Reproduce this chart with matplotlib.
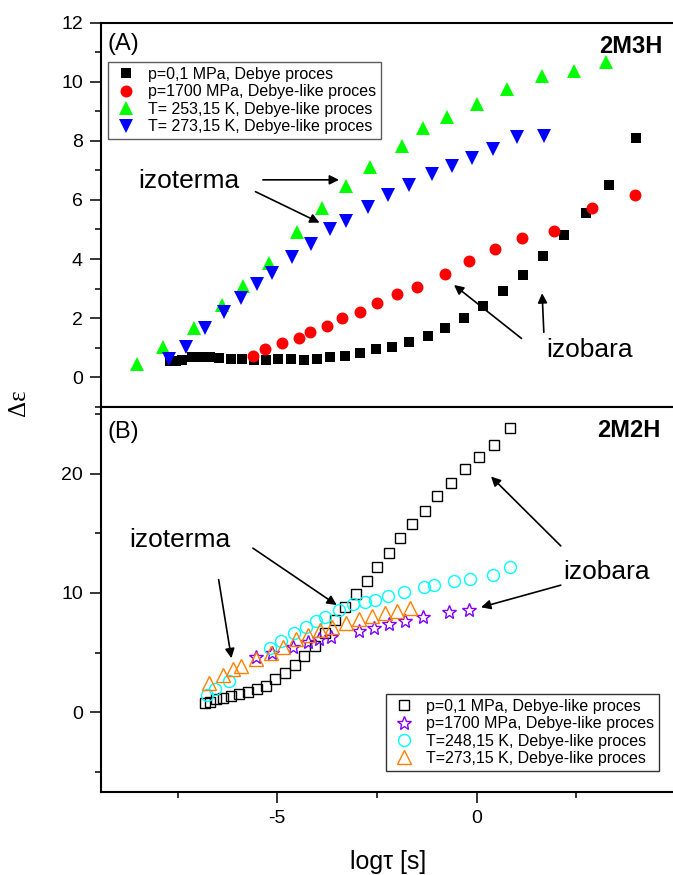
import numpy as np
import matplotlib.pyplot as plt
from matplotlib.ticker import MultipleLocator

plt.rcParams['font.family'] = ['Liberation Sans', 'DejaVu Sans']
plt.rcParams['axes.unicode_minus'] = False

# (A) 2M3H -- log(tau) vs delta eps
a_p01_x = [-4.84, -4.73, -4.62, -4.45, -4.30, -4.13, -3.97, -3.76, -3.57, -3.37, -3.16,
           -2.95, -2.72, -2.50, -2.27, -2.03, -1.77, -1.51, -1.23, -0.95, -0.65, -0.33,
           -0.03, 0.31, 0.64, 0.99, 1.34, 1.69, 2.05, 2.44, 2.84, 3.31]
a_p01_y = [0.54, 0.54, 0.58, 0.67, 0.67, 0.67, 0.64, 0.60, 0.60, 0.59, 0.59,
           0.60, 0.63, 0.59, 0.62, 0.69, 0.73, 0.82, 0.94, 1.03, 1.20, 1.39,
           1.65, 1.99, 2.41, 2.92, 3.46, 4.10, 4.81, 5.55, 6.51, 8.11]

a_p1700_x = [-3.38, -3.17, -2.88, -2.58, -2.39, -2.09, -1.83, -1.52, -1.21, -0.86, -0.52,
             -0.03, 0.39, 0.84, 1.32, 1.88, 2.54, 3.30]
a_p1700_y = [0.71, 0.94, 1.16, 1.33, 1.53, 1.74, 1.99, 2.21, 2.52, 2.80, 3.06,
             3.49, 3.94, 4.33, 4.72, 4.96, 5.72, 6.15]

a_t253_x = [-5.41, -4.96, -4.41, -3.92, -3.55, -3.11, -2.62, -2.17, -1.75, -1.34, -0.78,
            -0.41, 0.01, 0.53, 1.06, 1.67, 2.22, 2.78]
a_t253_y = [0.46, 1.01, 1.65, 2.44, 3.08, 3.85, 4.90, 5.72, 6.47, 7.11, 7.81,
            8.43, 8.82, 9.25, 9.75, 10.18, 10.37, 10.67]

a_t273_x = [-4.86, -4.55, -4.23, -3.89, -3.59, -3.31, -3.05, -2.71, -2.37, -2.03, -1.76,
            -1.38, -1.02, -0.65, -0.25, 0.09, 0.44, 0.81, 1.23, 1.70]
a_t273_y = [0.63, 1.03, 1.65, 2.21, 2.69, 3.14, 3.54, 4.06, 4.51, 5.01, 5.29,
            5.75, 6.17, 6.51, 6.87, 7.15, 7.41, 7.73, 8.13, 8.17]

# (B) 2M2H
b_p01_x = [-6.82, -6.69, -6.53, -6.35, -6.15, -5.96, -5.74, -5.51, -5.29, -5.05, -4.81,
           -4.56, -4.32, -4.06, -3.81, -3.54, -3.30, -3.03, -2.76, -2.50, -2.20, -1.93,
           -1.62, -1.29, -0.99, -0.65, -0.29, 0.06, 0.43, 0.84]
b_p01_y = [0.80, 0.89, 1.09, 1.23, 1.37, 1.53, 1.73, 1.95, 2.23, 2.76, 3.32,
           3.96, 4.75, 5.56, 6.62, 7.74, 8.80, 9.92, 11.03, 12.20, 13.38, 14.58,
           15.76, 16.87, 18.13, 19.25, 20.37, 21.37, 22.41, 23.81]

b_p1700_x = [-5.54, -5.13, -4.61, -4.24, -3.95, -3.65, -2.95, -2.58, -2.20, -1.80, -1.35,
             -0.69, -0.19]
b_p1700_y = [4.66, 5.00, 5.50, 5.86, 6.12, 6.34, 6.84, 7.09, 7.37, 7.68, 8.02,
             8.43, 8.58]

b_t248_x = [-6.76, -6.55, -6.21, -5.18, -4.91, -4.59, -4.29, -4.03, -3.81, -3.46, -3.09,
            -2.79, -2.55, -2.23, -1.83, -1.31, -1.07, -0.56, -0.16, 0.41, 0.84]
b_t248_y = [1.45, 1.93, 2.65, 5.36, 6.00, 6.62, 7.18, 7.68, 7.96, 8.58, 9.05,
            9.27, 9.41, 9.75, 10.11, 10.47, 10.64, 11.03, 11.20, 11.51, 12.20]

b_t273_x = [-6.72, -6.37, -6.10, -5.91, -5.53, -5.16, -4.86, -4.54, -4.22, -3.92, -3.62,
            -3.27, -2.95, -2.63, -2.31, -1.99, -1.66]
b_t273_y = [2.48, 3.13, 3.60, 3.91, 4.47, 4.94, 5.50, 6.12, 6.48, 6.90, 7.18,
            7.51, 7.80, 8.07, 8.30, 8.52, 8.72]

a_labels = ['p=0,1 MPa, Debye proces', 'p=1700 MPa, Debye-like proces',
            'T= 253,15 K, Debye-like proces', 'T= 273,15 K, Debye-like proces']
b_labels = ['p=0,1 MPa, Debye-like proces', 'p=1700 MPa, Debye-like proces',
            'T=248,15 K, Debye-like proces', 'T=273,15 K, Debye-like proces']

b_xticks = [-5, 0]

W, H = 673, 875
fig = plt.figure(figsize=(W / 100, H / 100), dpi=100)

left, right = 101 / W, 684 / W
ax1 = fig.add_axes([left, 1 - 406.7 / H, right - left, (406.7 - 22.7) / H])
ax2 = fig.add_axes([left, 1 - 791.7 / H, right - left, (791.7 - 406.7) / H])

leg_kw = dict(borderaxespad=0, fontsize=11.5, frameon=True, fancybox=False,
              handlelength=1.6, handletextpad=0.6, labelspacing=0.15, borderpad=0.3)

# ---- panel A ----
ax1.plot(a_p01_x, a_p01_y, 's', color='k', ms=6.5, mew=0, label=a_labels[0])
ax1.plot(a_p1700_x, a_p1700_y, 'o', color='#ff0000', ms=8.6, mew=0, label=a_labels[1])
ax1.plot(a_t253_x, a_t253_y, '^', color='#00ff00', ms=10.5, mew=0, label=a_labels[2])
ax1.plot(a_t273_x, a_t273_y, 'v', color='#0000ff', ms=10.5, mew=0, label=a_labels[3])

ax1.set_xlim(-6.04, 4.15)
ax1.set_ylim(-1, 12)
ax1.xaxis.set_major_locator(MultipleLocator(2))
ax1.xaxis.set_minor_locator(MultipleLocator(1))
ax1.yaxis.set_major_locator(MultipleLocator(2))
ax1.yaxis.set_minor_locator(MultipleLocator(1))
ax1.tick_params(axis='x', labelbottom=False)

leg1 = ax1.legend(loc='upper left', bbox_to_anchor=(0.012, 0.897), edgecolor='#333333',
                  **leg_kw)
leg1.get_frame().set_linewidth(1.0)

ax1.text(0.0115, 0.929, '(A)', transform=ax1.transAxes, fontsize=17, va='baseline')
ax1.text(0.9635, 0.920, '2M3H', transform=ax1.transAxes, fontsize=17,
         fontweight='bold', ha='right', va='baseline')

arr = dict(arrowstyle='-|>', color='k', lw=1.2, mutation_scale=14, shrinkA=0, shrinkB=0)
ax1.text(-5.39, 6.40, 'izoterma', fontsize=19, va='baseline')
ax1.annotate('', xy=(-1.88, 6.68), xytext=(-3.21, 6.68), arrowprops=arr)
ax1.annotate('', xy=(-2.22, 5.23), xytext=(-3.34, 6.28), arrowprops=arr)
ax1.text(1.74, 0.67, 'izobara', fontsize=19, va='baseline')
ax1.annotate('', xy=(0.13, 3.12), xytext=(1.31, 1.31), arrowprops=arr)
ax1.annotate('', xy=(1.67, 2.84), xytext=(1.70, 1.52), arrowprops=arr)

# ---- panel B ----
ax2.plot(b_p01_x, b_p01_y, 's', mfc='none', mec='k', ms=6.5, mew=1.0, label=b_labels[0])
ax2.plot(b_p1700_x, b_p1700_y, '*', mfc='none', mec='#7f00ff', ms=10.5, mew=1.0,
         label=b_labels[1])
ax2.plot(b_t248_x, b_t248_y, 'o', mfc='none', mec='#00ffff', ms=8.6, mew=1.0,
         label=b_labels[2])
ax2.plot(b_t273_x, b_t273_y, '^', mfc='none', mec='#ff8000', ms=10.5, mew=1.0,
         label=b_labels[3])

ax2.set_xlim(-9.42, 5.2)
ax2.set_ylim(-6.65, 25.6)
ax2.set_xticks(b_xticks)
ax2.xaxis.set_minor_locator(MultipleLocator(2.5))
ax2.yaxis.set_major_locator(MultipleLocator(10))
ax2.yaxis.set_minor_locator(MultipleLocator(5))

leg2 = ax2.legend(loc='lower right', bbox_to_anchor=(0.9576, 0.0545), edgecolor='k',
                  **leg_kw)
leg2.get_frame().set_linewidth(1.0)

ax2.text(0.0115, 0.9187, '(B)', transform=ax2.transAxes, fontsize=17, va='baseline')
ax2.text(0.96, 0.9205, '2M2H', transform=ax2.transAxes, fontsize=17,
         fontweight='bold', ha='right', va='baseline')

ax2.text(-8.71, 13.83, 'izoterma', fontsize=19, va='baseline')
ax2.annotate('', xy=(-6.15, 4.53), xytext=(-6.47, 11.12), arrowprops=arr)
ax2.annotate('', xy=(-3.51, 8.99), xytext=(-5.61, 13.75), arrowprops=arr)
ax2.text(2.17, 11.17, 'izobara', fontsize=19, va='baseline')
ax2.annotate('', xy=(0.36, 19.75), xytext=(2.11, 13.94), arrowprops=arr)
ax2.annotate('', xy=(0.11, 8.80), xytext=(2.11, 10.65), arrowprops=arr)

for ax in (ax1, ax2):
    for s in ax.spines.values():
        s.set_linewidth(1.5)
    ax.tick_params(which='major', direction='out', length=8, width=1.1, labelsize=14, pad=5)
    ax.tick_params(which='minor', direction='out', length=4, width=1.1)
    ax.tick_params(top=False, right=False, which='both')

fig.text(19 / W, 1 - 403 / H, 'Δε', rotation=90, fontsize=18, ha='center', va='center',
         family=['Liberation Serif', 'DejaVu Serif'])
fig.text(388.5 / W, 1 - 862 / H, 'logτ [s]', fontsize=18, ha='center', va='center')

plt.savefig('out.png', dpi=100)
